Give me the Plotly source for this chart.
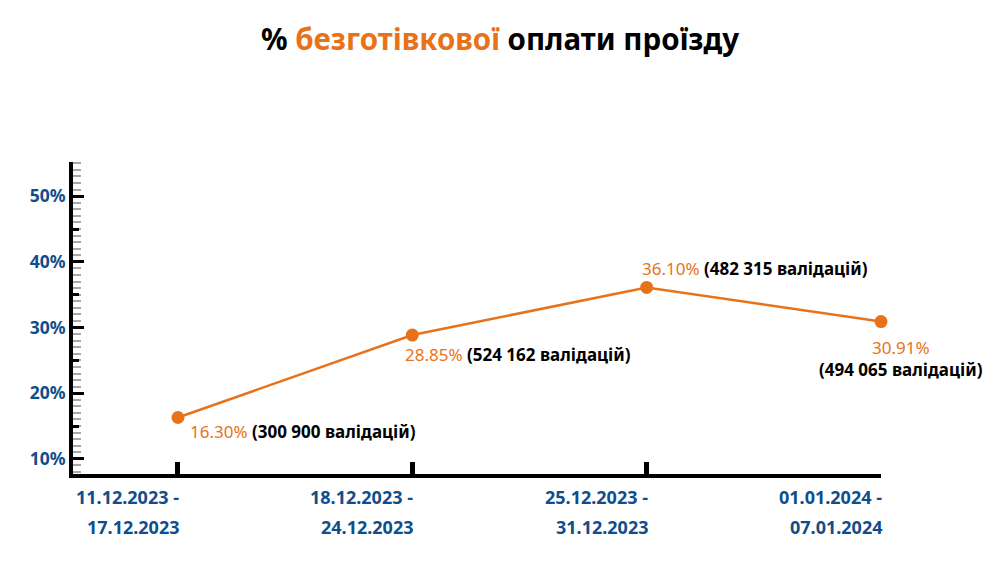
import plotly.graph_objects as go

# ---- data ----
week_start = ["11.12.2023", "18.12.2023", "25.12.2023", "01.01.2024"]
week_end = ["17.12.2023", "24.12.2023", "31.12.2023", "07.01.2024"]
cashless_pct = [16.30, 28.85, 36.10, 30.91]
validations = ["300 900", "524 162", "482 315", "494 065"]

ORANGE = "#e8721a"
BLUE = "#104e8b"
FONT = "Noto Sans"

x = list(range(len(week_start)))

fig = go.Figure()
fig.add_trace(go.Scatter(
    x=x, y=cashless_pct, mode="lines+markers",
    line=dict(color=ORANGE, width=2.5),
    marker=dict(color=ORANGE, size=13),
    cliponaxis=False,
    hoverinfo="skip", showlegend=False,
))
# invisible trace for secondary (medium tick) axis
fig.add_trace(go.Scatter(x=[x[0]], y=[cashless_pct[0]], yaxis="y2",
                         mode="markers", marker=dict(opacity=0),
                         hoverinfo="skip", showlegend=False))

title_text = "<b>% <span style='color:" + ORANGE + "'>безготівкової</span> оплати проїзду</b>"

fig.update_layout(
    width=1000, height=563,
    margin=dict(l=73, r=119, t=162, b=89),
    paper_bgcolor="white", plot_bgcolor="white",
    font=dict(family=FONT),
    title=dict(
        text=title_text,
        x=0.5, xanchor="center", y=0.93, yanchor="middle",
        font=dict(size=29.5, color="black", family=FONT),
    ),
    xaxis=dict(
        range=[-0.448, 3], showgrid=False, zeroline=False,
        showline=True, linecolor="black", linewidth=4,
        tickvals=x, ticktext=["" for _ in x],
        ticks="inside", ticklen=12, tickwidth=5, tickcolor="black",
    ),
    yaxis=dict(
        range=[7.7, 55.2], showgrid=False, zeroline=False,
        showline=True, linecolor="black", linewidth=4,
        tick0=10, dtick=10, ticksuffix="%",
        ticks="inside", ticklen=11, tickwidth=2.5, tickcolor="black",
        tickfont=dict(size=17.5, color=BLUE, family=FONT, weight="bold"),
        minor=dict(dtick=1, tick0=0, ticks="inside", ticklen=8,
                   tickwidth=1.5, tickcolor="#a8a8a8"),
    ),
    yaxis2=dict(
        range=[7.7, 55.2], overlaying="y", side="left", anchor="x",
        showgrid=False, zeroline=False, showline=False,
        tickvals=[15, 25, 35, 45], showticklabels=False,
        ticks="inside", ticklen=6, tickwidth=2.5, tickcolor="black",
    ),
)

# x category labels (two lines, right aligned to the tick)
for xi, s, e in zip(x, week_start, week_end):
    fig.add_annotation(x=xi, y=0, xref="x", yref="paper", text="<b>" + s + " -</b>",
                       showarrow=False, xanchor="right", yanchor="middle",
                       xshift=3, yshift=-23,
                       font=dict(size=18, color=BLUE, family=FONT))
    fig.add_annotation(x=xi, y=0, xref="x", yref="paper", text="<b>" + e + "</b>",
                       showarrow=False, xanchor="right", yanchor="middle",
                       xshift=3, yshift=-53,
                       font=dict(size=18, color=BLUE, family=FONT))

# point labels
offsets = [
    dict(xanchor="left", xshift=10, yshift=-14, two_lines=False),
    dict(xanchor="left", xshift=-9, yshift=-19, two_lines=False),
    dict(xanchor="left", xshift=-7, yshift=19, two_lines=False),
    dict(xanchor="center", xshift=20, yshift=-37, two_lines=True),
]
for xi, v, n, o in zip(x, cashless_pct, validations, offsets):
    pct = "<span style='color:" + ORANGE + "'>" + "{:.2f}%".format(v) + "</span>"
    cnt = "<b>(" + n + " валідацій)</b>"
    sep = "<br>" if o["two_lines"] else " "
    fig.add_annotation(x=xi, y=v, xref="x", yref="y", text=pct + sep + cnt,
                       showarrow=False, xanchor=o["xanchor"], yanchor="middle",
                       align="center", xshift=o["xshift"], yshift=o["yshift"],
                       font=dict(size=17, color="black", family=FONT))

fig.write_html("out.html")
